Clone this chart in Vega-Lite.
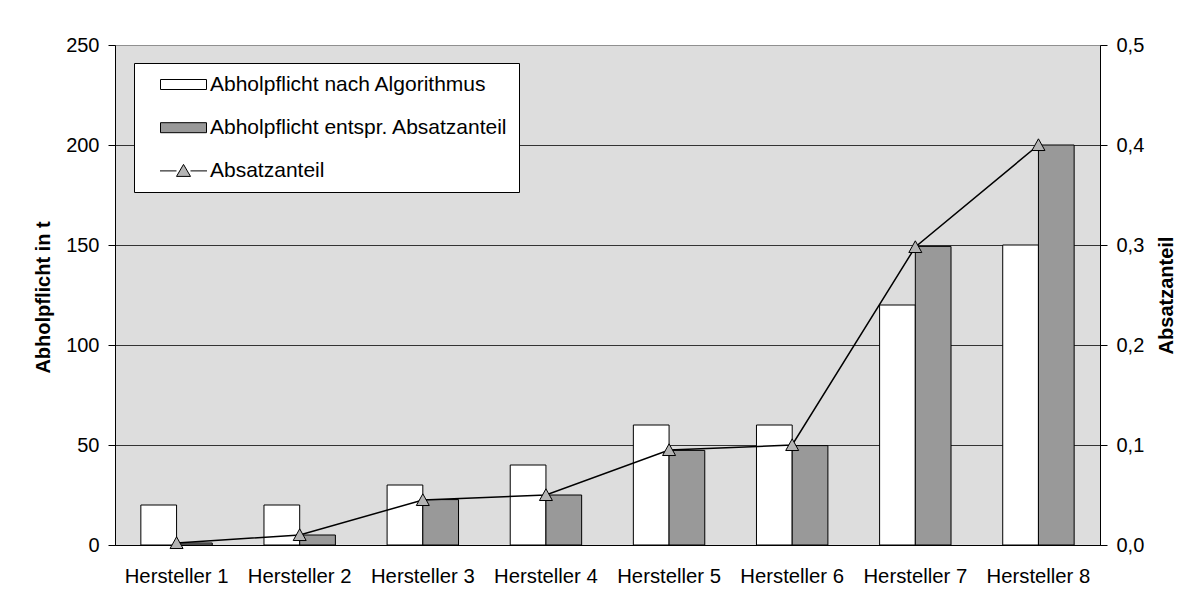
{
  "$schema": "https://vega.github.io/schema/vega-lite/v6.json",
  "width": 985,
  "height": 500,
  "autosize": {"type": "none"},
  "padding": {"left": 115, "top": 45, "right": 94, "bottom": 58},
  "background": "white",
  "config": {
    "font": "Liberation Sans",
    "view": {"fill": "#dddddd", "stroke": "#909090", "strokeWidth": 1},
    "axis": {
      "labelFont": "Liberation Sans", "labelFontSize": 20, "labelColor": "black",
      "titleFont": "Liberation Sans", "titleFontSize": 20, "titleFontWeight": "bold", "titleColor": "black",
      "domainColor": "black", "domainWidth": 1, "tickColor": "black", "tickWidth": 1
    }
  },
  "datasets": {
    "bars": [
      {"hersteller": "Hersteller 1", "serie": "Abholpflicht nach Algorithmus", "wert": 20},
      {"hersteller": "Hersteller 1", "serie": "Abholpflicht entspr. Absatzanteil", "wert": 1},
      {"hersteller": "Hersteller 2", "serie": "Abholpflicht nach Algorithmus", "wert": 20},
      {"hersteller": "Hersteller 2", "serie": "Abholpflicht entspr. Absatzanteil", "wert": 5},
      {"hersteller": "Hersteller 3", "serie": "Abholpflicht nach Algorithmus", "wert": 30},
      {"hersteller": "Hersteller 3", "serie": "Abholpflicht entspr. Absatzanteil", "wert": 22.7},
      {"hersteller": "Hersteller 4", "serie": "Abholpflicht nach Algorithmus", "wert": 40},
      {"hersteller": "Hersteller 4", "serie": "Abholpflicht entspr. Absatzanteil", "wert": 25},
      {"hersteller": "Hersteller 5", "serie": "Abholpflicht nach Algorithmus", "wert": 60},
      {"hersteller": "Hersteller 5", "serie": "Abholpflicht entspr. Absatzanteil", "wert": 47.3},
      {"hersteller": "Hersteller 6", "serie": "Abholpflicht nach Algorithmus", "wert": 60},
      {"hersteller": "Hersteller 6", "serie": "Abholpflicht entspr. Absatzanteil", "wert": 49.7},
      {"hersteller": "Hersteller 7", "serie": "Abholpflicht nach Algorithmus", "wert": 120},
      {"hersteller": "Hersteller 7", "serie": "Abholpflicht entspr. Absatzanteil", "wert": 149.3},
      {"hersteller": "Hersteller 8", "serie": "Abholpflicht nach Algorithmus", "wert": 150},
      {"hersteller": "Hersteller 8", "serie": "Abholpflicht entspr. Absatzanteil", "wert": 200}
    ],
    "anteil": [
      {"hersteller": "Hersteller 1", "anteil": 0.002},
      {"hersteller": "Hersteller 2", "anteil": 0.01},
      {"hersteller": "Hersteller 3", "anteil": 0.045},
      {"hersteller": "Hersteller 4", "anteil": 0.05},
      {"hersteller": "Hersteller 5", "anteil": 0.095},
      {"hersteller": "Hersteller 6", "anteil": 0.1},
      {"hersteller": "Hersteller 7", "anteil": 0.298},
      {"hersteller": "Hersteller 8", "anteil": 0.4}
    ]
  },
  "encoding": {
    "x": {
      "field": "hersteller", "type": "nominal",
      "scale": {"paddingInner": 0.42, "paddingOuter": 0.21},
      "axis": {"title": null, "labelAngle": 0, "ticks": false, "labelPadding": 21, "labelFontSize": 20.3, "domainColor": "black"}
    }
  },
  "layer": [
    {
      "data": {"name": "bars"},
      "mark": {"type": "bar", "stroke": "black", "strokeWidth": 1},
      "encoding": {
        "xOffset": {"field": "serie", "type": "nominal", "scale": {"domain": ["Abholpflicht nach Algorithmus", "Abholpflicht entspr. Absatzanteil"], "paddingInner": 0, "paddingOuter": 0}},
        "y": {
          "field": "wert", "type": "quantitative",
          "scale": {"domain": [0, 250], "nice": false},
          "axis": {
            "title": "Abholpflicht in t",
            "values": [0, 50, 100, 150, 200, 250],
            "grid": true,
            "gridColor": {"condition": {"test": "datum.value >= 250", "value": "#909090"}, "value": "#333333"},
            "gridWidth": 1,
            "tickSize": 7, "labelPadding": 9,
            "titleAngle": 270, "titleX": -72, "titleY": 252, "titleAlign": "center", "titleBaseline": "middle"
          }
        },
        "fill": {
          "field": "serie", "type": "nominal",
          "scale": {"domain": ["Abholpflicht nach Algorithmus", "Abholpflicht entspr. Absatzanteil", "Absatzanteil"], "range": ["#ffffff", "#999999", "#b4b4b4"]},
          "legend": {
            "title": null,
            "orient": "none", "legendX": 19, "legendY": 18,
            "symbolType": {"expr": "datum.value === 'Absatzanteil' ? 'M-2.35,0H-0.7M0.7,0H2.35M-0.7,0.55L0,-0.65L0.7,0.55Z' : 'M-2.3,-0.5H2.3V0.5H-2.3Z'"},
            "symbolSize": 400, "symbolOffset": 28, "labelOffset": 16,
            "symbolStrokeColor": "black", "symbolStrokeWidth": 1,
            "padding": 11, "rowPadding": 21.2,
            "strokeColor": "black", "fillColor": "white",
            "labelFont": "Liberation Sans", "labelFontSize": 21, "labelColor": "black", "labelLimit": 600
          }
        }
      }
    },
    {
      "data": {"name": "anteil"},
      "encoding": {
        "y": {
          "field": "anteil", "type": "quantitative",
          "scale": {"domain": [0, 0.5], "nice": false},
          "axis": {
            "orient": "right",
            "title": "Absatzanteil",
            "values": [0, 0.1, 0.2, 0.3, 0.4, 0.5],
            "labelExpr": "replace(format(datum.value, '.1f'), '.', ',')",
            "grid": false,
            "tickSize": 7, "labelPadding": 9,
            "titleAngle": 270, "titleX": 66, "titleY": 250, "titleAlign": "center", "titleBaseline": "middle"
          }
        }
      },
      "layer": [
        {"mark": {"type": "line", "color": "black", "strokeWidth": 1.5}},
        {"mark": {"type": "point", "filled": true, "fill": "#b4b4b4", "stroke": "black", "strokeWidth": 1, "opacity": 1, "size": 169, "shape": "M-1,0.85L0,-0.95L1,0.85Z", "clip": false}}
      ]
    }
  ],
  "resolve": {"scale": {"y": "independent", "fill": "independent"}}
}
